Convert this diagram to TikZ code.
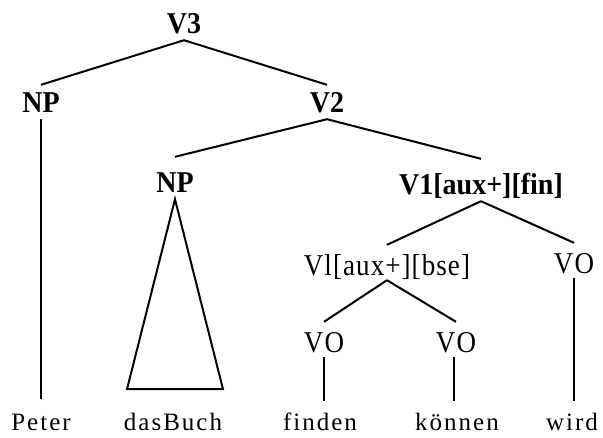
\documentclass[tikz,border=0pt]{standalone}
\usepackage{graphicx}
\usepackage{fontspec}
\setmainfont{Liberation Serif}
\newfontfamily\midfont[LetterSpace=4]{Liberation Serif}
\newfontfamily\leaffont[LetterSpace=8]{Liberation Serif}
% slightly tall lettering for the category labels
\newcommand\upstr[1]{\scalebox{1}[1.08]{#1}}
\newcommand\midstr[1]{\scalebox{1}[1.12]{#1}}
\begin{document}
\begin{tikzpicture}[x=1pt,y=-1pt,
  upper/.style={anchor=base, inner xsep=2pt, inner ysep=7pt,
    text height=20pt, text depth=0pt,
    font=\fontsize{28}{30}\selectfont\bfseries},
  mid/.style={anchor=base, inner xsep=2pt, inner ysep=5pt,
    text height=25pt, text depth=0pt,
    font=\fontsize{27}{29}\selectfont\midfont},
  leaf/.style={anchor=base, inner xsep=2pt, inner ysep=12pt,
    text height=17pt, text depth=0pt,
    font=\fontsize{25}{27}\selectfont\leaffont},
  branch/.style={line width=2pt}]
\useasboundingbox (0,0) rectangle (603,437);

% category labels
\node[upper] (v3)  at (184,33)  {\upstr{V3}};
\node[upper] (np1) at (41,112)  {\upstr{NP}};
\node[upper] (v2)  at (327,112) {\upstr{V2}};
\node[upper] (np2) at (175,192) {\upstr{NP}};
\node[upper] (v1f) at (481,194) {\upstr{V1[aux+][fin]}};
\node[mid]   (v1b) at (387,275) {\midstr{Vl[aux+][bse]}};
\node[mid]   (vo3) at (574,273) {\midstr{VO}};
\node[mid]   (vo1) at (324,352) {\midstr{VO}};
\node[mid]   (vo2) at (456,352) {\midstr{VO}};

% words
\node[leaf] (w1) at (41,430)  {Peter};
\node[leaf] (w2) at (173,430) {dasBuch};
\node[leaf] (w3) at (320,430) {finden};
\node[leaf] (w4) at (457,430) {können};
\node[leaf] (w5) at (572,430) {wird};

% branches
\draw[branch] (v3.south) -- (np1.north);
\draw[branch] (v3.south) -- (v2.north);
\draw[branch] (v2.south) -- ([yshift=8pt]np2.north);
\draw[branch] (v2.south) -- ([yshift=8pt]v1f.north);
\draw[branch] (v1f.south) -- (v1b.north);
\draw[branch] (v1f.south) -- (vo3.north);
\draw[branch] (v1b.south) -- (vo1.north);
\draw[branch] (v1b.south) -- (vo2.north);

% unary branches to the words
\draw[branch] (np1.south) -- ([yshift=2pt]w1.north);
\draw[branch] (vo1.south) -- (vo1.south |- w3.north);
\draw[branch] ([xshift=-2pt]vo2.south) -- ([xshift=-2pt]vo2.south |- w4.north);
\draw[branch] (vo3.south) -- (vo3.south |- w5.north);

% unanalysed NP
\draw[branch, line join=miter] (np2.south) -- ++(-48,190) -- ++(96,0) -- cycle;
\end{tikzpicture}
\end{document}
